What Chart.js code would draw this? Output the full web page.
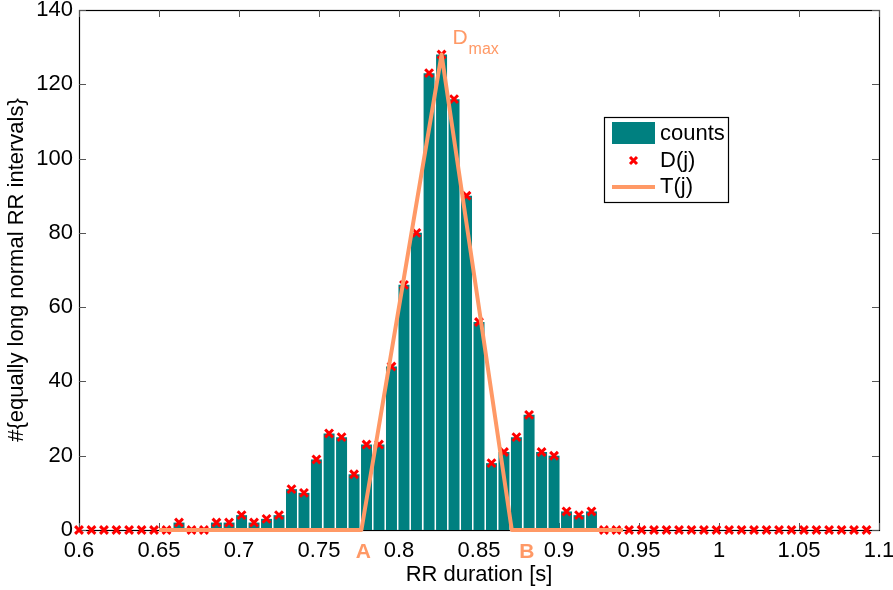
<!DOCTYPE html>
<html><head><meta charset="utf-8">
<script src="https://cdn.jsdelivr.net/npm/chart.js@4/dist/chart.umd.min.js"></script>
<style>html,body{margin:0;padding:0;background:#fff}canvas{display:block}</style>
</head><body>
<canvas id="c" width="893" height="590"></canvas>
<script>
// ---- data ----
const binCenters = [0.6,0.6078,0.6156,0.6234,0.6313,0.6391,0.6469,0.6547,0.6625,0.6703,0.6781,0.6859,0.6938,0.7016,0.7094,0.7172,
  0.725,0.7328,0.7406,0.7484,0.7563,0.7641,0.7719,0.7797,0.7875,0.7953,0.8031,0.8109,0.8188,0.8266,0.8344,0.8422,
  0.85,0.8578,0.8656,0.8734,0.8813,0.8891,0.8969,0.9047,0.9125,0.9203,0.9281,0.9359,0.9438,0.9516,0.9594,0.9672,
  0.975,0.9828,0.9906,0.9984,1.0063,1.0141,1.0219,1.0297,1.0375,1.0453,1.0531,1.0609,1.0688,1.0766,1.0844,1.0922];
const counts = [0,0,0,0,0,0,0,0,2,0,0,2,2,4,2,3,
  4,11,10,19,26,25,15,23,23,44,66,80,123,128,116,90,
  56,18,21,25,31,21,20,5,4,5,0,0,0,0,0,0,
  0,0,0,0,0,0,0,0,0,0,0,0,0,0,0,0];
const triangleX = [0.65, 0.7765, 0.8266, 0.8705, 0.94];
const triangleY = [0, 0, 128, 0, 0];
const xTicks = [0.6,0.65,0.7,0.75,0.8,0.85,0.9,0.95,1,1.05,1.1];
const yTicks = [0,20,40,60,80,100,120,140];

const TEAL = '#008080', RED = '#ff0000', ORANGE = '#ff9966';
const FONT = "'Liberation Sans', Arial, Helvetica, sans-serif";

const barData = binCenters.map((x,i)=>({x, y: counts[i]}));
const triData = triangleX.map((x,i)=>({x, y: triangleY[i]}));

const framePlugin = {
  id: 'frame',
  beforeDatasetsDraw(chart) {
    const {ctx, chartArea: a, scales: {x, y}} = chart;
    ctx.save();
    ctx.strokeStyle = '#000';
    ctx.lineWidth = 1.2;
    ctx.strokeRect(Math.round(a.left)+0.5, Math.round(a.top)+0.5, Math.round(a.right-a.left), Math.round(a.bottom-a.top));
    ctx.strokeStyle = '#555';
    ctx.lineWidth = 1;
    const L = 7;
    ctx.beginPath();
    xTicks.forEach(v => {
      const px = Math.round(x.getPixelForValue(v)) + 0.5;
      ctx.moveTo(px, a.bottom); ctx.lineTo(px, a.bottom - L);
      ctx.moveTo(px, a.top); ctx.lineTo(px, a.top + L);
    });
    yTicks.forEach(v => {
      const py = Math.round(y.getPixelForValue(v)) + 0.5;
      ctx.moveTo(a.left, py); ctx.lineTo(a.left + L, py);
      ctx.moveTo(a.right, py); ctx.lineTo(a.right - L, py);
    });
    ctx.stroke();
    ctx.restore();
  },
  afterDraw(chart) {
    const {ctx, scales: {x, y}} = chart;
    ctx.save();
    // annotations A, B, Dmax
    ctx.fillStyle = ORANGE;
    ctx.textAlign = 'center';
    ctx.textBaseline = 'alphabetic';
    ctx.font = 'bold 21px ' + FONT;
    ctx.fillText('A', x.getPixelForValue(triangleX[1]) + 2, 558);
    ctx.fillText('B', x.getPixelForValue(triangleX[3]) + 15, 558);
    ctx.textAlign = 'left';
    const px = x.getPixelForValue(triangleX[2]);
    const py = y.getPixelForValue(triangleY[2]);
    ctx.font = '21px ' + FONT;
    ctx.fillText('D', px + 11, py - 11);
    ctx.font = '16px ' + FONT;
    ctx.fillText('max', px + 27, py - 1);
    // legend
    const lx = 604, ly = 117, lw = 124, lh = 85;
    ctx.fillStyle = '#fff';
    ctx.fillRect(lx, ly, lw, lh);
    ctx.strokeStyle = '#000';
    ctx.lineWidth = 1.2;
    ctx.strokeRect(lx + 0.5, ly + 0.5, lw, lh);
    ctx.fillStyle = TEAL;
    ctx.fillRect(612, 122, 43, 22);
    ctx.strokeStyle = RED;
    ctx.lineWidth = 3;
    ctx.beginPath();
    ctx.moveTo(630, 157); ctx.lineTo(637, 164);
    ctx.moveTo(637, 157); ctx.lineTo(630, 164);
    ctx.stroke();
    ctx.strokeStyle = ORANGE;
    ctx.lineWidth = 4;
    ctx.beginPath();
    ctx.moveTo(612, 187); ctx.lineTo(655, 187);
    ctx.stroke();
    ctx.fillStyle = '#000';
    ctx.font = '22px ' + FONT;
    ctx.textBaseline = 'middle';
    ctx.fillText('counts', 660, 134);
    ctx.fillText('D(j)', 660, 161);
    ctx.fillText('T(j)', 660, 187);
    ctx.restore();
  }
};

new Chart(document.getElementById('c'), {
  type: 'bar',
  data: {
    datasets: [
      { type: 'line', label: 'T(j)', data: triData, borderColor: ORANGE, borderWidth: 4,
        borderJoinStyle: 'round', pointRadius: 0, tension: 0, fill: false, order: 1, clip: false },
      { type: 'line', label: 'D(j)', data: barData, showLine: false, pointStyle: 'crossRot',
        pointRadius: 5.5, pointBorderWidth: 3, borderColor: RED, backgroundColor: RED, order: 2, clip: false },
      { type: 'bar', label: 'counts', data: barData, backgroundColor: TEAL, borderWidth: 0,
        barPercentage: 0.88, categoryPercentage: 1, order: 3 }
    ]
  },
  options: {
    responsive: false,
    animation: false,
    layout: { padding: { top: 10, right: 14, left: 0, bottom: 0 } },
    plugins: { legend: { display: false }, tooltip: { enabled: false } },
    scales: {
      x: {
        type: 'linear', min: 0.6, max: 1.1, offset: false,
        grid: { display: false, drawTicks: false, offset: false },
        border: { display: false },
        afterBuildTicks: s => { s.ticks = xTicks.map(v => ({ value: v })); },
        ticks: { autoSkip: false, maxRotation: 0, padding: 8, color: '#000',
          font: { family: FONT, size: 22 },
          callback: v => String(Math.round(v * 100) / 100) },
        title: { display: true, text: 'RR duration [s]', color: '#000',
          font: { family: FONT, size: 22 }, padding: { top: 0, bottom: 2 } },
        afterFit: s => { s.height = 60; s.paddingLeft = 0; s.paddingRight = 0; }
      },
      y: {
        type: 'linear', min: 0, max: 140,
        grid: { display: false, drawTicks: false },
        border: { display: false },
        afterBuildTicks: s => { s.ticks = yTicks.map(v => ({ value: v })); },
        ticks: { padding: 6, color: '#000', font: { family: FONT, size: 22 } },
        title: { display: true, text: '#{equally long normal RR intervals}', color: '#000',
          font: { family: FONT, size: 22 }, padding: { top: 4, bottom: 0 } },
        afterFit: s => { s.width = 79; s.paddingTop = 0; s.paddingBottom = 0; }
      }
    }
  },
  plugins: [framePlugin]
});
</script>
</body></html>
